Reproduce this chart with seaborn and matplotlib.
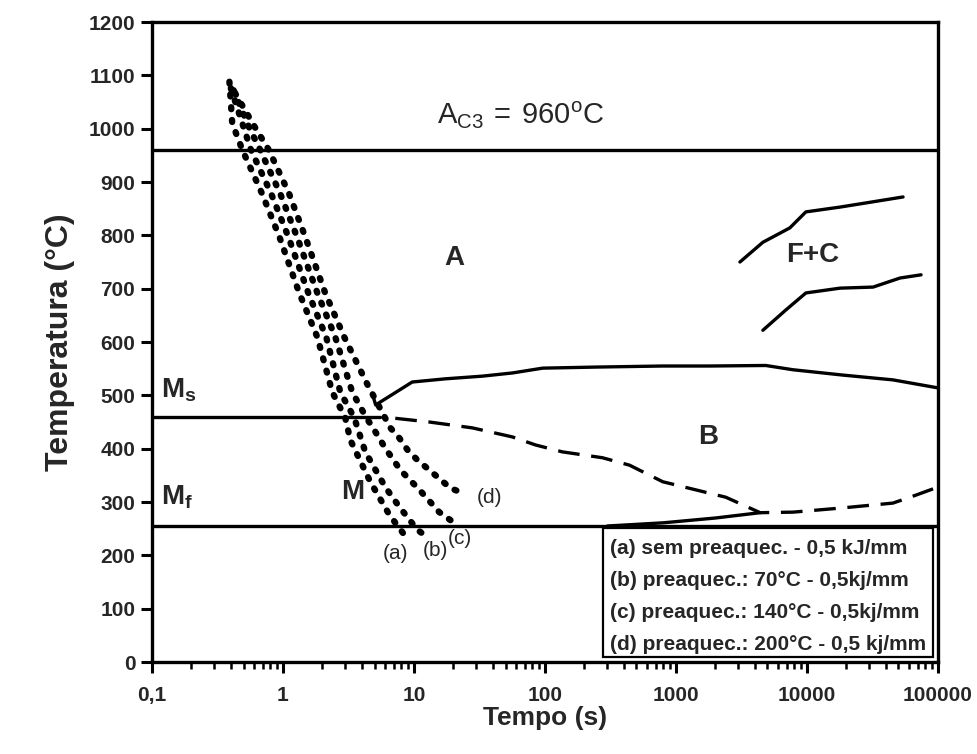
import matplotlib
matplotlib.use('Agg')
import matplotlib.pyplot as plt
import seaborn as sns
import pandas as pd
from matplotlib.patches import Rectangle

sns.set_theme(style='ticks')
plt.rcParams['font.family'] = ['Liberation Sans', 'DejaVu Sans']
plt.rcParams['mathtext.fontset'] = 'custom'
plt.rcParams['mathtext.rm'] = 'Liberation Sans'
plt.rcParams['mathtext.bf'] = 'Liberation Sans:bold'

# curvas de resfriamento (pontilhadas) ------------------------------------------
cool_a_t = [0.39, 0.41, 0.49, 0.69, 0.94, 1.33, 1.83, 2.38, 2.99, 3.27, 4.64, 6.49, 8.59]
cool_a_T = [1088, 1010, 960, 879, 797, 692, 609, 506, 458, 416, 338, 276, 236]

cool_b_t = [0.40, 0.50, 0.57, 0.81, 1.10, 1.56, 2.14, 2.74, 3.50, 4.25, 6.04, 7.73, 10.6, 12.7]
cool_b_T = [1076, 1003, 960, 879, 797, 692, 609, 506, 458, 394, 328, 291, 248, 234]

cool_c_t = [0.42, 0.55, 0.67, 0.95, 1.28, 1.83, 2.51, 3.38, 4.33, 4.81, 6.04, 7.87, 11.0, 15.6, 19.0]
cool_c_T = [1072, 1003, 960, 879, 797, 692, 609, 506, 458, 441, 401, 360, 323, 281, 266]

cool_d_t = [0.43, 0.61, 0.78, 1.11, 1.48, 2.10, 2.94, 4.40, 6.61, 7.73, 8.91, 10.6, 13.1, 19.0, 23.4]
cool_d_T = [1067, 1003, 960, 879, 797, 692, 609, 521, 439, 420, 398, 379, 360, 326, 317]

# inicio da bainita (linha cheia) -----------------------------------------------
bs_t = [4.8, 5.1, 9.7, 17.4, 33.3, 56.5, 96, 244, 793, 1810, 4850, 7820, 18800, 45400, 100000]
bs_T = [504, 482, 525, 531, 536, 542, 551, 553, 555, 555, 556, 548, 538, 529, 514]

# fim da bainita (tracejada) ----------------------------------------------------
bf_t = [7.2, 13.1, 27.9, 56.5, 84.7, 136, 275, 443, 793, 2400, 4400, 7820, 18800, 45400, 68100, 100000]
bf_T = [457, 450, 439, 422, 407, 394, 383, 369, 338, 309, 280, 281, 289, 298, 313, 328]

# trecho cheio inferior ---------------------------------------------------------
bl_t = [300, 800, 2000, 4400]
bl_T = [255, 261, 270, 280]

# ferrita + carbonetos ----------------------------------------------------------
fc1_t = [3080, 4610, 7410, 9820, 17900, 30300, 54200]
fc1_T = [750, 787, 814, 844, 853, 862, 872]
fc2_t = [4610, 6900, 9820, 17900, 32000, 51400, 74400]
fc2_T = [622, 660, 692, 701, 703, 720, 726]

# linhas horizontais ------------------------------------------------------------
ac3 = 960
ms_t = [0.1, 5.5]
ms_T = [460, 460]
mf = 255

x_ticks = [0.1, 1, 10, 100, 1000, 10000, 100000]
x_labels = ['0,1', '1', '10', '100', '1000', '10000', '100000']
y_ticks = list(range(0, 1300, 100))

legend_lines = ['(a) sem preaquec. - 0,5 kJ/mm',
                '(b) preaquec.: 70°C - 0,5kj/mm',
                '(c) preaquec.: 140°C - 0,5kj/mm',
                '(d) preaquec.: 200°C - 0,5 kj/mm']

fig = plt.figure(figsize=(9.78, 7.54), dpi=100)
ax = fig.add_axes([0.1554, 0.122, 0.8036, 0.8488])

for tt, TT in [(cool_a_t, cool_a_T), (cool_b_t, cool_b_T), (cool_c_t, cool_c_T), (cool_d_t, cool_d_T)]:
    df = pd.DataFrame({'t': tt, 'T': TT})
    ln, = ax.plot(df['t'], df['T'], color='black', linewidth=4.6)
    ln.set_dashes((0.3, 1.7))
    ln.set_dash_capstyle('round')

for tt, TT in [(bs_t, bs_T), (bl_t, bl_T), (fc1_t, fc1_T), (fc2_t, fc2_T), (ms_t, ms_T)]:
    sns.lineplot(x=tt, y=TT, ax=ax, color='black', linewidth=2.4, sort=False, estimator=None)

sns.lineplot(x=bf_t, y=bf_T, ax=ax, color='black', linewidth=2.4, sort=False, estimator=None)
ax.lines[-1].set_dashes((6.5, 3.5))

ax.axhline(ac3, color='black', linewidth=2.4)
ax.axhline(mf, color='black', linewidth=2.4)

ax.set_xscale('log')
ax.set_xlim(0.1, 100000)
ax.set_ylim(0, 1200)
ax.set_xticks(x_ticks)
ax.set_xticklabels(x_labels)
ax.set_yticks(y_ticks)

for s in ax.spines.values():
    s.set_linewidth(2.4)
    s.set_color('black')
ax.tick_params(which='major', direction='out', length=8, width=2.2, labelsize=15, color='black')
ax.tick_params(axis='x', which='major', pad=9)
ax.tick_params(axis='y', which='major', pad=4)
ax.tick_params(which='minor', direction='out', length=5, width=1.8, color='black')
for lab in ax.get_xticklabels() + ax.get_yticklabels():
    lab.set_fontweight('bold')

ax.set_xlabel('Tempo (s)', fontsize=19, fontweight='bold', labelpad=1)
ax.set_ylabel('Temperatura (°C)', fontsize=23, fontweight='bold', labelpad=10)

ax.text(65, 1024, r'$\mathregular{A_{C3}\,=\,960^{o}C}$', fontsize=21, ha='center', va='center')
ax.text(20.4, 757, 'A', fontsize=20, fontweight='bold', ha='center', va='center')
ax.text(11100, 763, 'F+C', fontsize=20, fontweight='bold', ha='center', va='center')
ax.text(1750, 422, 'B', fontsize=20, fontweight='bold', ha='center', va='center')
ax.text(3.38, 319, 'M', fontsize=20, fontweight='bold', ha='center', va='center')
ax.text(0.118, 510, r'$\mathbf{M_s}$', fontsize=20, ha='left', va='center')
ax.text(0.118, 309, r'$\mathbf{M_f}$', fontsize=20, ha='left', va='center')
ax.text(7.2, 204, '(a)', fontsize=15, ha='center', va='center')
ax.text(14.6, 210, '(b)', fontsize=15, ha='center', va='center')
ax.text(22.6, 232, '(c)', fontsize=15, ha='center', va='center')
ax.text(37.7, 309, '(d)', fontsize=15, ha='center', va='center')

ax.add_patch(Rectangle((0.574, 0.008), 0.42, 0.201, transform=ax.transAxes,
                       facecolor='white', edgecolor='black', linewidth=1.6, zorder=5))
for i, txt in enumerate(legend_lines):
    ax.text(0.583, 0.178 - i * 0.05, txt, transform=ax.transAxes, fontsize=15,
            fontweight='bold', ha='left', va='center', zorder=6)

fig.savefig('out.png', dpi=100)
